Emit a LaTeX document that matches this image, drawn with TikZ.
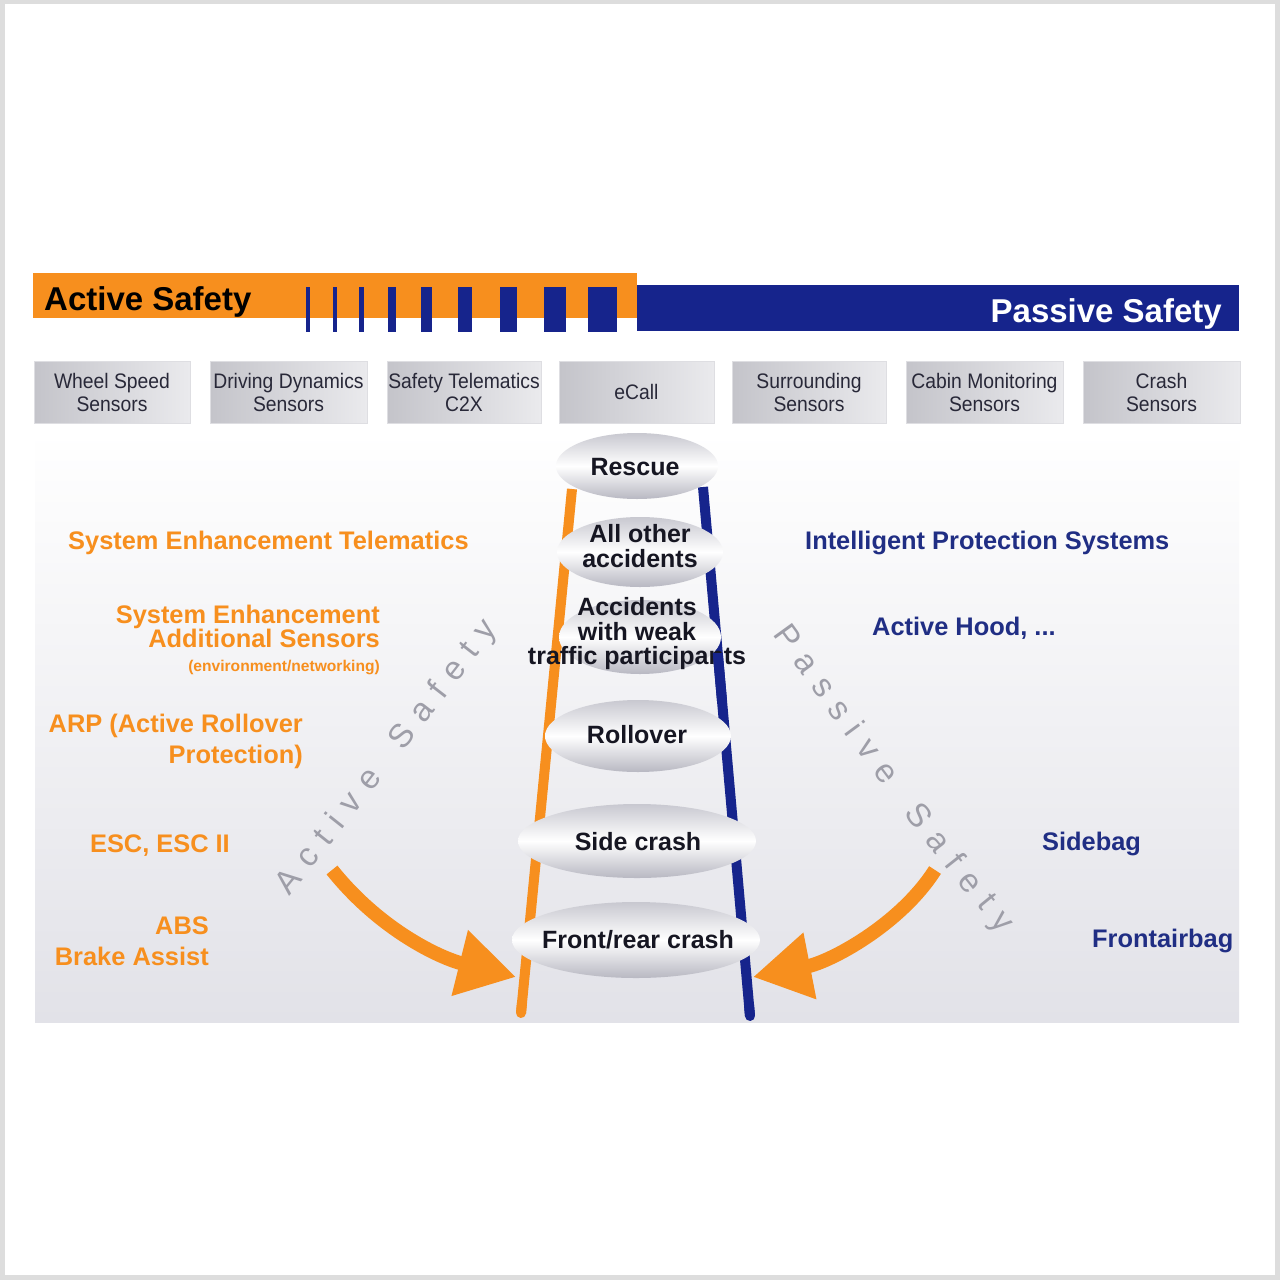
\documentclass[tikz,border=0pt]{standalone}
\usepackage{fontspec}
\setmainfont{Liberation Sans}
\newfontfamily\narrowsans[FakeStretch=0.92]{Liberation Sans}
\usetikzlibrary{arrows.meta,decorations.text,shapes.geometric,calc}
\definecolor{aorange}{RGB}{247,143,30}
\definecolor{anavy}{RGB}{22,36,140}
\definecolor{tnavy}{RGB}{32,46,132}
\definecolor{framegray}{RGB}{221,221,221}
\definecolor{boxdark}{RGB}{196,196,202}
\definecolor{boxlight}{RGB}{234,234,237}
\definecolor{boxborder}{RGB}{222,222,226}
\definecolor{boxtext}{RGB}{40,40,56}
\definecolor{lenstop}{RGB}{200,200,208}
\definecolor{lensbot}{RGB}{184,184,194}
\definecolor{lenstextc}{RGB}{22,22,34}
\definecolor{arcgray}{RGB}{158,158,168}
\definecolor{panelbot}{RGB}{226,226,232}
\newcommand{\fsz}[2]{\fontsize{#1pt}{#2pt}\selectfont}
\begin{document}
\begin{tikzpicture}[x=1pt,y=-1pt,
  sensor/.style={rectangle, draw=boxborder, line width=0.8pt, left color=boxdark, right color=boxlight,
     minimum height=62pt, inner sep=0pt, align=center, font=\narrowsans\fsz{21}{23}, text=boxtext},
  lens/.style={ellipse, inner sep=0pt, shading=axis, top color=lenstop, bottom color=lensbot, middle color=white},
  lenstxt/.style={font=\bfseries\fsz{25}{24.5}, text=lenstextc, align=center, inner sep=0pt},
  orangetxt/.style={font=\bfseries\fsz{25.4}{24}, text=aorange, inner sep=0pt},
  navytxt/.style={font=\bfseries\fsz{25.4}{24}, text=tnavy, inner sep=0pt},
  titletxt/.style={font=\bfseries\fsz{33}{33}, inner sep=0pt},
  railo/.style={draw=aorange, line width=10pt, line cap=round},
  railb/.style={draw=anavy, line width=10pt, line cap=round},
  bigarrow/.style={draw=aorange, line width=14pt, -{Triangle[length=58pt,width=64pt]}},
  arctext/.style={decorate, decoration={text along path, text align=fit to path, text={|\fsz{33}{33}\color{arcgray}|#1}}}
]
\useasboundingbox (0,0) rectangle (1280,1280);
\fill[framegray] (0,0) rectangle (1280,1280);
\fill[white] (5,4) rectangle (1275,1275);
% background panel
\shade[top color=white, bottom color=panelbot] (35,430) rectangle (1239,1022);

% header bars
\fill[aorange] (33,273) rectangle (637,318);
\fill[anavy] (637,285) rectangle (1239,331);
\foreach \x/\w in {308/4, 335/4, 361/5, 392/8, 426/11, 465/14, 508/17, 555/22, 602/29}
  \fill[anavy] (\x-\w/2,287) rectangle (\x+\w/2,332);
\node[titletxt, anchor=base west, text=black] (asafe) at (44,310) {Active Safety};
\node[titletxt, anchor=base east, text=white] (psafe) at (1222,322) {Passive Safety};

% sensor boxes
\node[sensor, minimum width=156pt] (wss) at (112,392) {Wheel Speed\\Sensors};
\node[sensor, minimum width=157pt] (dds) at (288.5,392) {Driving Dynamics\\Sensors};
\node[sensor, minimum width=154pt] (stc) at (464,392) {Safety Telematics\\C2X};
\node[sensor, minimum width=155pt] (ecall) at (636.5,392) {eCall};
\node[sensor, minimum width=154pt] (sur) at (809,392) {Surrounding\\Sensors};
\node[sensor, minimum width=157pt] (cms) at (984.5,392) {Cabin Monitoring\\Sensors};
\node[sensor, minimum width=157pt] (crs) at (1161.5,392) {Crash\\Sensors};

% ladder rails
\coordinate (oTop) at (572,489);
\coordinate (oBot) at (521,1013);
\coordinate (bTop) at (703,487);
\coordinate (bBot) at (750,1016);
\draw[railo, line cap=butt] (oTop) -- (oBot);
\draw[railo] ($(oBot)!0.02!(oTop)$) -- (oBot);
\draw[railb, line cap=butt] (bTop) -- (bBot);

% ellipses (rungs)
\node[lens, minimum width=162pt, minimum height=66pt] (eRes) at (637,466) {};
\node[lens, minimum width=166pt, minimum height=70pt] (eAll) at (640,552) {};
\node[lens, minimum width=162pt, minimum height=74pt] (eWeak) at (640,637) {};
\node[lens, minimum width=186pt, minimum height=72pt] (eRoll) at (638,736) {};
\node[lens, minimum width=238pt, minimum height=74pt] (eSide) at (637,841) {};
\node[lens, minimum width=248pt, minimum height=76pt] (eFront) at (636,940) {};
\node[lenstxt] (tRes) at (635,467) {Rescue};
\node[lenstxt] (tAll) at (640,546) {All other\\accidents};
\node[lenstxt] (tWeak) at (637,634) {Accidents\\with weak\\traffic participants};
\node[lenstxt] (tRoll) at (637,735) {Rollover};
\node[lenstxt] (tSide) at (638,842) {Side crash};
\node[lenstxt] (tFront) at (638,940) {Front/rear crash};
\begin{scope}
  \clip (690,653) rectangle (740,700);
  \draw[railb, line cap=butt] (bTop) -- (bBot);
\end{scope}
\draw[railb] ($(bBot)!0.02!(bTop)$) -- (bBot);

% left (active) texts
\node[orangetxt, anchor=north west] (set) at (68,531) {System Enhancement Telematics};
\node[orangetxt, anchor=north east, align=right] (seas) at (380,605) {System Enhancement\\Additional Sensors};
\node[orangetxt, font=\bfseries\fsz{15.6}{15}, anchor=north east] (env) at (380,660) {(environment/networking)};
\node[orangetxt, font=\bfseries\fsz{25.4}{31}, anchor=north east, align=right] (arp) at (303,714) {ARP (Active Rollover\\Protection)};
\node[orangetxt, anchor=north east] (esc) at (230,835) {ESC, ESC II};
\node[orangetxt, font=\bfseries\fsz{25.4}{31}, anchor=north east, align=right] (abs) at (209,917) {ABS\\Brake Assist};

% right (passive) texts
\node[navytxt, anchor=north west] (ips) at (805,531) {Intelligent Protection Systems};
\node[navytxt, anchor=north west] (ahood) at (872,617) {Active Hood, ...};
\node[navytxt, anchor=north west] (sbag) at (1042,832) {Sidebag};
\node[navytxt, anchor=north west] (fbag) at (1092,929) {Frontairbag};

% curved labels
\path[arctext={Active Safety}] (289,896) .. controls (358,812) and (428,720) .. (498,630);
\path[arctext={Passive Safety}] (772,634) .. controls (842,731) and (920,838) .. (1000,934);

% arrows
\coordinate (aS) at (332,870);
\coordinate (aE) at (516,977);
\coordinate (pS) at (935,870);
\coordinate (pE) at (753,977);
\draw[bigarrow] (aS) .. controls (380,930) and (440,958) .. (aE);
\draw[bigarrow] (pS) .. controls (900,925) and (830,962) .. (pE);
\end{tikzpicture}
\end{document}
